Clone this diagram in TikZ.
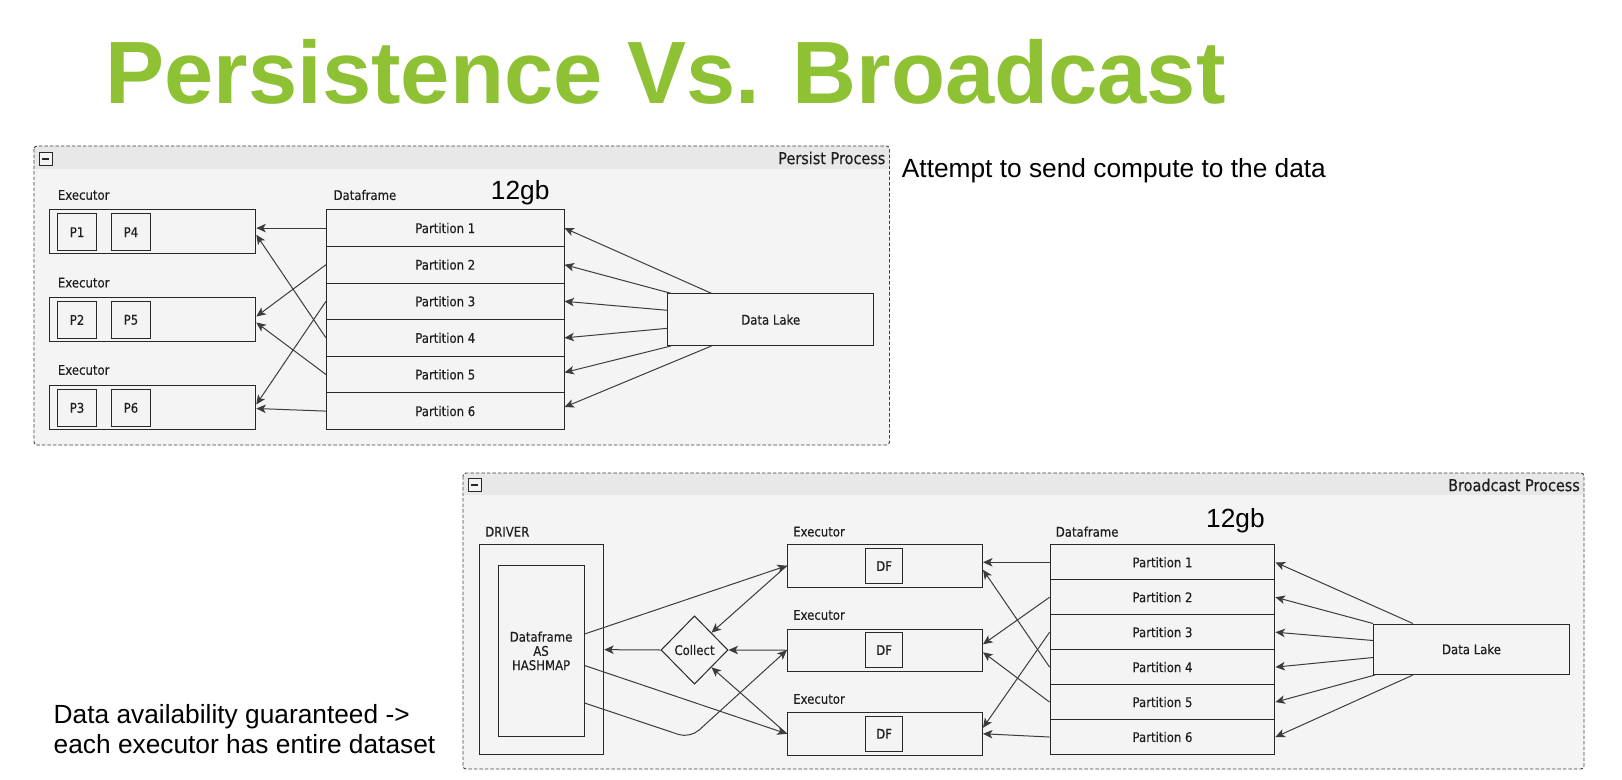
\documentclass[tikz,border=0pt]{standalone}
\usepackage{fontspec}
\setmainfont{Liberation Sans}
\newfontfamily\diagfont[FakeStretch=0.88,FakeBold=0.25]{DejaVu Sans}
\usetikzlibrary{shapes.geometric,arrows.meta,calc}

\definecolor{titlegreen}{RGB}{142,193,52}
\definecolor{panelfill}{RGB}{244,244,244}
\definecolor{headfill}{RGB}{232,232,232}
\definecolor{edge}{RGB}{40,40,40}
\definecolor{wire}{RGB}{60,60,60}
\definecolor{labeltext}{RGB}{30,30,30}

\tikzset{
  box/.style={draw=edge, line width=1pt, inner sep=0pt, anchor=north west,
    font=\diagfont\fontsize{13.3}{14.2}\selectfont, text=labeltext},
  lbl/.style={inner sep=0pt, anchor=west,
    font=\diagfont\fontsize{13.3}{14.2}\selectfont, text=labeltext},
  head/.style={inner sep=0pt, anchor=east,
    font=\diagfont\fontsize{16.4}{18}\selectfont, text=labeltext},
  note/.style={inner sep=0pt, anchor=base west, font=\fontsize{26.3}{30}\selectfont},
  arr/.style={draw=wire, line width=1pt, -{Stealth[length=9.5pt,width=8.5pt,inset=2.5pt]}},
  panel/.style={draw=black!75, line width=0.9pt, dash pattern=on 3.5pt off 2pt, rounded corners=3pt},
  minusbox/.style={draw=edge, fill=panelfill, line width=0.8pt, inner sep=0pt,
    minimum width=13pt, minimum height=13pt, anchor=north west},
}

\begin{document}
\begin{tikzpicture}[x=1pt, y=-1pt]
% canvas
\fill[white] (0,0) rectangle (1622,779);

% heading
\node[inner sep=0pt, anchor=base west, font=\bfseries\fontsize{88.5}{90}\selectfont,
  text=titlegreen] (title) at (105.5,103.4) {Persistence Vs. Broadcast};

% ---------------- persist process panel ----------------
\fill[panelfill, rounded corners=3pt] (34,146) rectangle (889.5,445);
\begin{scope}
  \clip[rounded corners=3pt] (34,146) rectangle (889.5,445);
  \fill[headfill] (34,146) rectangle (889.5,169);
\end{scope}
\draw[panel] (34,146) rectangle (889.5,445);
\node[minusbox] (pmin) at (39,152) {};
\draw[edge, line width=1.6pt] ($(pmin.center)+(-3.5,0)$) -- ($(pmin.center)+(3.5,0)$);
\node[head] (phead) at (885.5,158) {Persist Process};

\node[note] (attempt) at (901.7,177) {Attempt to send compute to the data};

% executors
\node[lbl] (le1) at (57.7,195) {Executor};
\node[lbl] (le2) at (57.7,282.7) {Executor};
\node[lbl] (le3) at (57.7,370) {Executor};
\node[box, minimum width=206.1pt, minimum height=44pt] (e1) at (49.2,209.3) {};
\node[box, minimum width=206.1pt, minimum height=44pt] (e2) at (49.2,297) {};
\node[box, minimum width=206.1pt, minimum height=44pt] (e3) at (49.2,385) {};
\node[box, minimum width=38.5pt, minimum height=36.7pt] (pp1) at (57.3,213.3) {P1};
\node[box, minimum width=38.5pt, minimum height=36.7pt] (pp4) at (111.2,213.3) {P4};
\node[box, minimum width=38.5pt, minimum height=36.7pt] (pp2) at (57.3,301) {P2};
\node[box, minimum width=38.5pt, minimum height=36.7pt] (pp5) at (111.2,301) {P5};
\node[box, minimum width=38.5pt, minimum height=36.7pt] (pp3) at (57.3,389) {P3};
\node[box, minimum width=38.5pt, minimum height=36.7pt] (pp6) at (111.2,389) {P6};

% dataframe
\node[lbl] (ldf) at (333.4,195) {Dataframe};
\node[note] (size1) at (490.7,199) {12gb};
\foreach \i in {1,...,6}
  \node[box, minimum width=237.5pt, minimum height=36.6pt] (p\i)
    at (326,{209.3+36.6*(\i-1)}) {Partition \i};

\node[box, minimum width=205.6pt, minimum height=51.7pt] (dl) at (667.4,293.3) {Data Lake};

% partitions to executors
\draw[arr] (p1.west) -- (p1.west -| e1.east);
\draw[arr] (p4.west) -- ($(e1.east)+(0,3)$);
\draw[arr] (p2.west) -- ($(e2.east)+(0,-3)$);
\draw[arr] (p5.west) -- ($(e2.east)+(0,3)$);
\draw[arr] (p3.west) -- ($(e3.east)+(0,-3)$);
\draw[arr] (p6.west) -- ($(e3.east)+(0,1)$);

% data lake to partitions
\draw[arr] ($(dl.north west)+(44,0)$) -- (p1.east);
\draw[arr] ($(dl.north west)+(3.5,0)$) -- (p2.east);
\draw[arr] ($(dl.north west)+(0,17)$) -- (p3.east);
\draw[arr] ($(dl.north west)+(0,35)$) -- (p4.east);
\draw[arr] ($(dl.south west)+(3.5,0)$) -- ($(p5.east)+(0,-2)$);
\draw[arr] ($(dl.south west)+(44,0)$) -- ($(p6.east)+(0,-4)$);

% ---------------- broadcast process panel ----------------
\fill[panelfill, rounded corners=3pt] (463,473) rectangle (1584,769);
\begin{scope}
  \clip[rounded corners=3pt] (463,473) rectangle (1584,769);
  \fill[headfill] (463,473) rectangle (1584,495);
\end{scope}
\draw[panel] (463,473) rectangle (1584,769);
\node[minusbox] (bmin) at (467.5,478) {};
\draw[edge, line width=1.6pt] ($(bmin.center)+(-3.5,0)$) -- ($(bmin.center)+(3.5,0)$);
\node[head] (bhead) at (1580,485) {Broadcast Process};

\node[note] (avail1) at (53.5,723.3) {Data availability guaranteed ->};
\node[note] (avail2) at (53.5,753.3) {each executor has entire dataset};

% driver
\node[lbl] (ldrv) at (485,531.7) {DRIVER};
\node[box, minimum width=124.6pt, minimum height=209.7pt] (drv) at (478.6,544.3) {};
\node[box, minimum width=86.1pt, minimum height=170.7pt, align=center] (hm)
  at (497.5,565) {Dataframe\\AS\\HASHMAP};

% collect step
\node[box, diamond, anchor=center, minimum width=67pt, minimum height=68.3pt] (col)
  at (694.5,650) {Collect};

% executors
\node[lbl] (lf1) at (793,531.7) {Executor};
\node[lbl] (lf2) at (793,615) {Executor};
\node[lbl] (lf3) at (793,699) {Executor};
\node[box, minimum width=195.2pt, minimum height=42.5pt] (f1) at (786.8,544) {};
\node[box, minimum width=195.2pt, minimum height=42.5pt] (f2) at (786.8,628.5) {};
\node[box, minimum width=195.2pt, minimum height=42.5pt] (f3) at (786.8,712) {};
\node[box, minimum width=36.4pt, minimum height=34.6pt] (df1) at (865.4,548.3) {DF};
\node[box, minimum width=36.4pt, minimum height=34.6pt] (df2) at (865.4,632.3) {DF};
\node[box, minimum width=36.4pt, minimum height=34.6pt] (df3) at (865.4,716) {DF};

% dataframe
\node[lbl] (ldf2) at (1055.6,531.7) {Dataframe};
\node[note] (size2) at (1206,527) {12gb};
\foreach \i in {1,...,6}
  \node[box, minimum width=224.8pt, minimum height=34.95pt] (q\i)
    at (1049.6,{544.3+34.95*(\i-1)}) {Partition \i};

\node[box, minimum width=196pt, minimum height=50.5pt] (dl2) at (1373,623.5) {Data Lake};

% data lake to partitions
\draw[arr] ($(dl2.north west)+(40,0)$) -- (q1.east);
\draw[arr] (dl2.north west) -- (q2.east);
\draw[arr] ($(dl2.north west)+(0,17)$) -- (q3.east);
\draw[arr] ($(dl2.north west)+(0,34)$) -- (q4.east);
\draw[arr] ($(dl2.south west)+(2,0)$) -- (q5.east);
\draw[arr] ($(dl2.south west)+(40,0)$) -- (q6.east);

% partitions to executors
\draw[arr] (q1.west) -- (q1.west -| f1.east);
\draw[arr] (q4.west) -- ($(f1.east)+(0,4)$);
\draw[arr] (q2.west) -- ($(f2.east)+(0,-6)$);
\draw[arr] (q5.west) -- ($(f2.east)+(0,2)$);
\draw[arr] (q3.west) -- ($(f3.east)+(0,-6)$);
\draw[arr] (q6.west) -- (f3.east);

% driver broadcasts to executors, executors feed collect
\coordinate (bend) at (690,738.3);
\draw[arr] ($(hm.north east)+(0,69)$) -- (f1.west);
\draw[arr] ($(hm.north east)+(0,100.5)$) -- (f3.west);
\draw[arr, rounded corners=12pt] ($(hm.north east)+(0,138)$) -- (bend) -- (f2.west);
\draw[arr] (f1.west) -- (col.north east);
\draw[arr] (f2.west) -- (col.east);
\draw[arr] (f3.west) -- (col.south east);
\draw[arr] (col.west) -- (drv.east);
\end{tikzpicture}
\end{document}
